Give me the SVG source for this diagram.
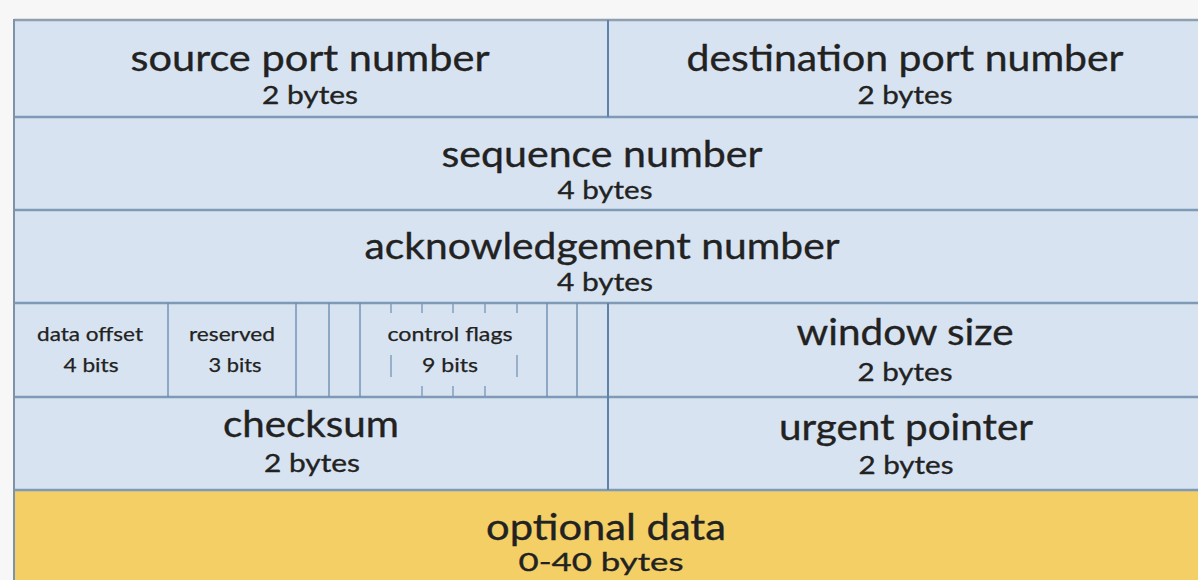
<svg xmlns="http://www.w3.org/2000/svg" width="1198" height="580" viewBox="0 0 1198 580">
  <style>
    .cell { fill: #d7e3f0; }
    .opt { fill: #f3cf66; }
    .hline { stroke: #7e9ab6; stroke-width: 2.5; }
    .vdiv { stroke: #5f82a8; stroke-width: 2; }
    .vthin { stroke: #6f8db0; stroke-width: 1.4; }
    .tick { stroke: #6f8db0; stroke-width: 1.2; }
    text { font-family: Lato, "Open Sans", "Liberation Sans", sans-serif; fill: #222222; text-anchor: middle; stroke: #222222; stroke-width: 0.35; }
    .big { font-size: 37px; }
    .sub { font-size: 25px; }
    .small { font-size: 20px; stroke-width: 0.25; }
  </style>
  <rect x="0" y="0" width="1198" height="580" fill="#f7f7f7"/>

  <g id="row1-source-port">
    <rect class="cell" x="14" y="20" width="594" height="97"/>
    <text class="big" x="310" y="71" textLength="359" lengthAdjust="spacingAndGlyphs">source port number</text>
    <text class="sub" x="310" y="104" textLength="96" lengthAdjust="spacingAndGlyphs">2 bytes</text>
  </g>
  <g id="row1-destination-port">
    <rect class="cell" x="608" y="20" width="600" height="97"/>
    <text class="big" x="905" y="71" textLength="437" lengthAdjust="spacingAndGlyphs">destination port number</text>
    <text class="sub" x="905" y="104" textLength="95" lengthAdjust="spacingAndGlyphs">2 bytes</text>
  </g>
  <g id="row2-sequence">
    <rect class="cell" x="14" y="117" width="1194" height="93"/>
    <text class="big" x="602" y="167" textLength="321" lengthAdjust="spacingAndGlyphs">sequence number</text>
    <text class="sub" x="605" y="199" textLength="95" lengthAdjust="spacingAndGlyphs">4 bytes</text>
  </g>
  <g id="row3-acknowledgement">
    <rect class="cell" x="14" y="210" width="1194" height="93"/>
    <text class="big" x="602" y="259" textLength="475" lengthAdjust="spacingAndGlyphs">acknowledgement number</text>
    <text class="sub" x="605" y="291" textLength="96" lengthAdjust="spacingAndGlyphs">4 bytes</text>
  </g>
  <g id="row4-data-offset">
    <rect class="cell" x="14" y="303" width="154" height="94"/>
    <text class="small" x="90" y="341" textLength="106" lengthAdjust="spacingAndGlyphs">data offset</text>
    <text class="small" x="91" y="372" textLength="55" lengthAdjust="spacingAndGlyphs">4 bits</text>
  </g>
  <g id="row4-reserved">
    <rect class="cell" x="168" y="303" width="128" height="94"/>
    <text class="small" x="232" y="341" textLength="86" lengthAdjust="spacingAndGlyphs">reserved</text>
    <text class="small" x="235" y="372" textLength="53" lengthAdjust="spacingAndGlyphs">3 bits</text>
  </g>
  <g id="row4-control-flags">
    <rect class="cell" x="296" y="303" width="312" height="94"/>
    <text class="small" x="450" y="341" textLength="125" lengthAdjust="spacingAndGlyphs">control flags</text>
    <text class="small" x="450" y="372" textLength="56" lengthAdjust="spacingAndGlyphs">9 bits</text>
    <line class="tick" x1="391" y1="303" x2="391" y2="313"/>
    <line class="tick" x1="422" y1="303" x2="422" y2="313"/>
    <line class="tick" x1="453" y1="303" x2="453" y2="313"/>
    <line class="tick" x1="485" y1="303" x2="485" y2="313"/>
    <line class="tick" x1="517" y1="303" x2="517" y2="313"/>
    <line class="tick" x1="391" y1="355" x2="391" y2="377"/>
    <line class="tick" x1="517" y1="355" x2="517" y2="377"/>
    <line class="tick" x1="422" y1="386" x2="422" y2="397"/>
    <line class="tick" x1="453" y1="386" x2="453" y2="397"/>
    <line class="tick" x1="485" y1="386" x2="485" y2="397"/>
  </g>
  <g id="row4-window-size">
    <rect class="cell" x="608" y="303" width="600" height="94"/>
    <text class="big" x="905" y="345" textLength="217" lengthAdjust="spacingAndGlyphs">window size</text>
    <text class="sub" x="905" y="381" textLength="95" lengthAdjust="spacingAndGlyphs">2 bytes</text>
  </g>
  <g id="row5-checksum">
    <rect class="cell" x="14" y="397" width="594" height="93"/>
    <text class="big" x="311" y="437" textLength="176" lengthAdjust="spacingAndGlyphs">checksum</text>
    <text class="sub" x="312" y="472" textLength="96" lengthAdjust="spacingAndGlyphs">2 bytes</text>
  </g>
  <g id="row5-urgent-pointer">
    <rect class="cell" x="608" y="397" width="600" height="93"/>
    <text class="big" x="906" y="440" textLength="254" lengthAdjust="spacingAndGlyphs">urgent pointer</text>
    <text class="sub" x="906" y="474" textLength="95" lengthAdjust="spacingAndGlyphs">2 bytes</text>
  </g>
  <g id="row6-optional-data">
    <rect class="opt" x="14" y="490" width="1194" height="100"/>
    <text class="big" x="606" y="540" textLength="240" lengthAdjust="spacingAndGlyphs">optional data</text>
    <text class="sub" x="601" y="571" textLength="165" lengthAdjust="spacingAndGlyphs">0-40 bytes</text>
  </g>

  <g id="grid-lines">
    <line x1="14" y1="20" x2="1198" y2="20" stroke="#8f9fb0" stroke-width="2.5"/>
    <line class="hline" x1="14" y1="117" x2="1198" y2="117"/>
    <line class="hline" x1="14" y1="210" x2="1198" y2="210"/>
    <line class="hline" x1="14" y1="303" x2="1198" y2="303"/>
    <line class="hline" x1="14" y1="397" x2="1198" y2="397"/>
    <line class="hline" x1="14" y1="490" x2="1198" y2="490"/>
    <line x1="14" y1="19" x2="14" y2="580" stroke="#7f93a6" stroke-width="2"/>
    <line class="vdiv" x1="608" y1="20" x2="608" y2="117"/>
    <line class="vdiv" x1="608" y1="303" x2="608" y2="490"/>
    <line class="vthin" x1="168" y1="303" x2="168" y2="397"/>
    <line class="vthin" x1="296" y1="303" x2="296" y2="397"/>
    <line class="vthin" x1="329" y1="303" x2="329" y2="397"/>
    <line class="vthin" x1="360" y1="303" x2="360" y2="397"/>
    <line class="vthin" x1="547" y1="303" x2="547" y2="397"/>
    <line class="vthin" x1="577" y1="303" x2="577" y2="397"/>
  </g>
</svg>
